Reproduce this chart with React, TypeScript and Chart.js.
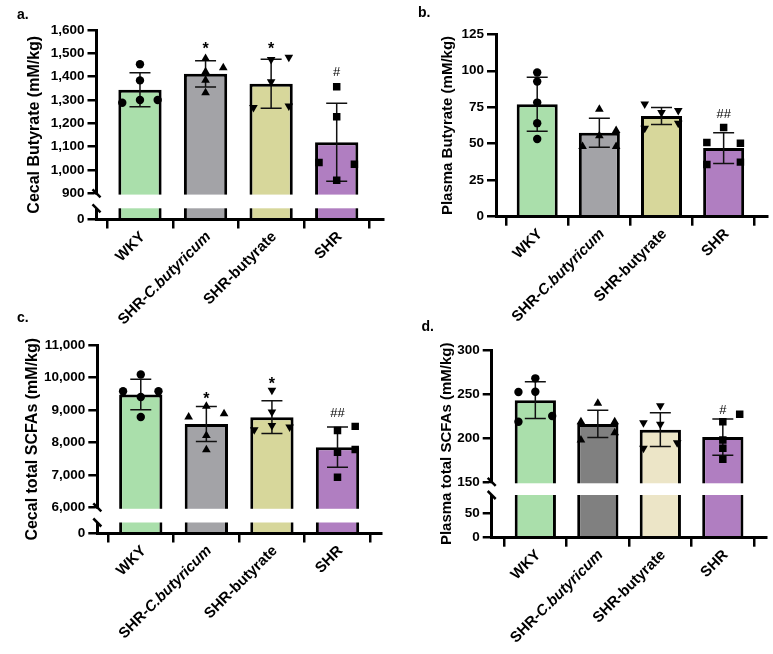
import React, { useEffect, useRef } from 'react';
import { Chart, registerables, LinearScale } from 'chart.js';

Chart.register(...registerables);

const FONT = '"Liberation Sans", Arial, Helvetica, sans-serif';

// ---------- shared categories ----------
const groups = ['WKY', 'SHR-C.butyricum', 'SHR-butyrate', 'SHR'];
const groupPlain = ['WKY', 'SHR-', 'SHR-butyrate', 'SHR'];
const groupItalic = ['', 'C.butyricum', '', ''];
const pointStyles = ['circle', 'triangle', 'triangle', 'rect'];
const pointRotations = [0, 0, 180, 0];
const pointRadii = [4.2, 5, 5, 5.3];

const colorsMain = ['#aadfab', '#a3a3a7', '#d7d79b', '#b07ec1'];
const colorsD = ['#aadfab', '#808080', '#ece5c7', '#b07ec1'];

// ---------- panel a: Cecal Butyrate ----------
const aTicks = [0, 900, 1000, 1100, 1200, 1300, 1400, 1500, 1600];
const aMeans = [1344, 1412, 1370, 1119];
const aSD = [73, 56, 105, 167];
const aWKY = [1453, 1384, 1300, 1288, 1300];
const aCbut = [1478, 1438, 1421, 1385, 1331];
const aBut = [1474, 1483, 1378, 1268, 1274];
const aSHR = [1357, 1228, 1032, 1025, 956];
const aCols = [[0, 0, 0, -1, 1], [0, 1, 0, 0, 0], [0, 1, 0, -1, 1], [0, 0, -1, 1, 0]];
const aSig = ['', '*', '*', '#'];
const aSigY = [0, 1536, 1536, 1421];

// ---------- panel b: Plasma Butyrate ----------
const bTicks = [0, 25, 50, 75, 100, 125];
const bMeans = [77, 57.5, 69, 47];
const bSD = [18.5, 9.9, 5.8, 10.5];
const bWKY = [98.8, 92.6, 78.2, 64.1, 53.2];
const bCbut = [73.7, 59, 55.4, 48.1, 48.1];
const bBut = [77.3, 72.7, 71.4, 60.7, 64.1];
const bSHR = [61.1, 50.8, 50.4, 35.8, 37.4];
const bCols = [[0, 0, 0, 0, 0], [0, 1, 0, -1, 1], [-1, 1, 0, -1, 1], [0, -1, 1, -1, 1]];
const bSig = ['', '', '', '##'];
const bSigY = [0, 0, 0, 71];

// ---------- panel c: Cecal total SCFAs ----------
const cTicks = [0, 6000, 7000, 8000, 9000, 10000, 11000];
const cMeans = [9480, 8570, 8780, 7855];
const cSD = [469, 541, 504, 618];
const cWKY = [10094, 9578, 9578, 9401, 8783];
const cCbut = [9114, 8783, 8888, 8217, 7775];
const cBut = [9609, 8938, 8526, 8393, 8474];
const cSHR = [8372, 8496, 7701, 7785, 6927];
const cCols = [[0, -1, 1, 0, 0], [0, -1, 1, 0, 0], [0, 0, 0, -1, 1], [0, 1, 0, 1, 0]];
const cSig = ['', '*', '*', '##'];
const cSigY = [0, 9454, 9918, 8938];

// ---------- panel d: Plasma total SCFAs ----------
const dTicks = [0, 50, 150, 200, 250, 300];
const dMeans = [243, 216, 209.5, 201];
const dSD = [20.9, 15.5, 19.3, 20.6];
const dWKY = [267.8, 252.2, 252.6, 218.5, 225];
const dCbut = [239.4, 218.5, 218.5, 197.7, 206];
const dBut = [236.7, 217.4, 215.6, 188.3, 194.7];
const dSHR = [226.9, 218.5, 197.7, 188.3, 175.8];
const dCols = [[0, -1, 0, -1, 1], [0, -1, 1, -1, 1], [0, -1, 0, -1, 1], [1, 0, 0, 0, 0]];
const dSig = ['', '', '', '#'];
const dSigY = [0, 0, 0, 232.6];

type Brk = { lowMax: number; upMin: number; upMax: number; lowFrac: number; gapFrac: number };
type Panel = {
  key: string; W: number; H: number; CH: number; left: number; right: number; top: number; bottom: number;
  xMin: number; xMax: number; yMin: number; yMax: number; yTicks: number[]; brk?: Brk;
  title: string; titleSize: number; titlePad: number;
  means: number[]; sds: number[]; points: number[][]; cols: number[][]; colors: string[];
  sig: string[]; sigY: number[];
};

const panels: { p: Panel; x: number; y: number }[] = [
  {
    x: 0, y: 0,
    p: {
      key: 'a', W: 390, H: 320, CH: 334, left: 96.5, right: 383, top: 30, bottom: 219.5,
      xMin: -0.663, xMax: 3.706, yMin: 0, yMax: 1600, yTicks: aTicks,
      brk: { lowMax: 100, upMin: 900, upMax: 1600, lowFrac: 0.0591, gapFrac: 0.0792 },
      title: 'Cecal Butyrate (mM/kg)', titleSize: 16, titlePad: 25.4,
      means: aMeans, sds: aSD, points: [aWKY, aCbut, aBut, aSHR], cols: aCols, colors: colorsMain,
      sig: aSig, sigY: aSigY,
    },
  },
  {
    x: 390, y: 0,
    p: {
      key: 'b', W: 383, H: 320, CH: 334, left: 106, right: 381.7, top: 34.3, bottom: 216.7,
      xMin: -0.663, xMax: 3.709, yMin: 0, yMax: 125, yTicks: bTicks,
      title: 'Plasma Butyrate (mM/kg)', titleSize: 15, titlePad: 49,
      means: bMeans, sds: bSD, points: [bWKY, bCbut, bBut, bSHR], cols: bCols, colors: colorsMain,
      sig: bSig, sigY: bSigY,
    },
  },
  {
    x: 0, y: 320,
    p: {
      key: 'c', W: 390, H: 334, CH: 334, left: 97.3, right: 381.7, top: 25, bottom: 213.5,
      xMin: -0.663, xMax: 3.674, yMin: 0, yMax: 11000, yTicks: cTicks,
      brk: { lowMax: 1000, upMin: 6000, upMax: 11000, lowFrac: 0.0584, gapFrac: 0.0796 },
      title: 'Cecal total SCFAs (mM/kg)', titleSize: 16, titlePad: 23.4,
      means: cMeans, sds: cSD, points: [cWKY, cCbut, cBut, cSHR], cols: cCols, colors: colorsMain,
      sig: cSig, sigY: cSigY,
    },
  },
  {
    x: 390, y: 320,
    p: {
      key: 'd', W: 383, H: 334, CH: 334, left: 101.7, right: 376.7, top: 30, bottom: 217.7,
      xMin: -0.698, xMax: 3.702, yMin: 0, yMax: 300, yTicks: dTicks,
      brk: { lowMax: 87.5, upMin: 150, upMax: 300, lowFrac: 0.2275, gapFrac: 0.0693 },
      title: 'Plasma total SCFAs (mM/kg)', titleSize: 15, titlePad: 48,
      means: dMeans, sds: dSD, points: [dWKY, dCbut, dBut, dSHR], cols: dCols, colors: colorsD,
      sig: dSig, sigY: dSigY,
    },
  },
];

const letters = [
  { t: 'a.', x: 17, y: 5.5 },
  { t: 'b.', x: 418, y: 3.5 },
  { t: 'c.', x: 17, y: 308.5 },
  { t: 'd.', x: 421.5, y: 318 },
];

function makeBrokenScale(id: string, b: Brk) {
  class BrokenScale extends (LinearScale as any) {
    static id = id;
    static defaults = {};
    getPixelForValue(value: number) {
      const self = this as any;
      const top = self.top, bottom = self.bottom, h = bottom - top;
      const lowH = h * b.lowFrac, gapH = h * b.gapFrac, upH = h - lowH - gapH;
      if (value <= b.lowMax) return bottom - (value / b.lowMax) * lowH;
      if (value >= b.upMin) return top + ((b.upMax - value) / (b.upMax - b.upMin)) * upH;
      return bottom - lowH - ((value - b.lowMax) / (b.upMin - b.lowMax)) * gapH;
    }
    getValueForPixel(pixel: number) {
      const self = this as any;
      const top = self.top, bottom = self.bottom, h = bottom - top;
      const lowH = h * b.lowFrac, gapH = h * b.gapFrac, upH = h - lowH - gapH;
      if (pixel >= bottom - lowH) return ((bottom - pixel) / lowH) * b.lowMax;
      if (pixel <= top + upH) return b.upMax - ((pixel - top) / upH) * (b.upMax - b.upMin);
      return b.lowMax + ((bottom - lowH - pixel) / gapH) * (b.upMin - b.lowMax);
    }
  }
  Chart.register(BrokenScale as any);
  return id;
}

function buildChart(canvas: HTMLCanvasElement, p: Panel) {
  const yType = p.brk ? makeBrokenScale('broken' + p.key, p.brk) : 'linear';

  const datasets: any[] = [
    {
      type: 'bar',
      data: p.means.map((m, i) => ({ x: i, y: m })),
      backgroundColor: p.colors,
      borderColor: '#000',
      borderWidth: 3,
      barPercentage: 0.66,
      categoryPercentage: 1,
      order: 2,
    },
  ];
  p.points.forEach((vals, g) => {
    datasets.push({
      type: 'scatter',
      data: vals.map((v, k) => ({ x: g + p.cols[g][k] * 0.27, y: v })),
      pointStyle: pointStyles[g],
      rotation: pointRotations[g],
      pointRadius: pointRadii[g],
      backgroundColor: '#000',
      borderColor: '#000',
      borderWidth: 0,
      order: 1,
    });
  });

  const overlay = {
    id: 'overlay' + p.key,
    afterDatasetDraw(chart: any, args: any) {
      if (args.index !== 0) return;
      const ctx = chart.ctx, xs = chart.scales.x, ys = chart.scales.y;
      ctx.save();
      ctx.strokeStyle = '#111';
      ctx.lineWidth = 1.5;
      p.means.forEach((m, i) => {
        const x = xs.getPixelForValue(i);
        const yt = ys.getPixelForValue(m + p.sds[i]);
        const yb = ys.getPixelForValue(m - p.sds[i]);
        ctx.beginPath();
        ctx.moveTo(x, yt); ctx.lineTo(x, yb);
        ctx.moveTo(x - 10.5, yt); ctx.lineTo(x + 10.5, yt);
        ctx.moveTo(x - 10.5, yb); ctx.lineTo(x + 10.5, yb);
        ctx.stroke();
      });
      ctx.restore();
    },
    afterDraw(chart: any) {
      const ctx = chart.ctx, xs = chart.scales.x, ys = chart.scales.y, ca = chart.chartArea;
      ctx.save();
      // axis break
      if (p.brk) {
        const gTop = ys.getPixelForValue(p.brk.upMin);
        const gBot = ys.getPixelForValue(p.brk.lowMax);
        ctx.fillStyle = '#fff';
        ctx.fillRect(ca.left - 2.5, gTop + 1.3, ca.right - ca.left + 5, gBot - gTop - 1.3);
        ctx.strokeStyle = '#000';
        ctx.lineWidth = 2.5;
        [gTop, gBot].forEach((yy) => {
          ctx.beginPath();
          ctx.moveTo(ca.left - 4, yy - 4);
          ctx.lineTo(ca.left + 4, yy + 4);
          ctx.stroke();
        });
      }
      // significance marks
      ctx.fillStyle = '#000';
      ctx.textAlign = 'center';
      ctx.textBaseline = 'alphabetic';
      p.sig.forEach((s, i) => {
        if (!s) return;
        const x = xs.getPixelForValue(i);
        const y = ys.getPixelForValue(p.sigY[i]);
        if (s.startsWith('*')) {
          ctx.font = `bold 16px ${FONT}`;
          ctx.fillText(s, x, y + 16 * 0.57);
        } else {
          ctx.font = `13px ${FONT}`;
          ctx.fillText(s, x, y + 13 * 0.36);
        }
      });
      // category labels (rotated, with italic species name)
      groups.forEach((_, i) => {
        const x = xs.getPixelForValue(i) + 3;
        const y = ca.bottom + 15;
        ctx.save();
        ctx.translate(x, y);
        ctx.rotate(-Math.PI / 4);
        ctx.textAlign = 'right';
        ctx.textBaseline = 'middle';
        let off = 0;
        if (groupItalic[i]) {
          ctx.font = `italic bold 15px ${FONT}`;
          ctx.fillText(groupItalic[i], 0, 0);
          off = ctx.measureText(groupItalic[i]).width;
        }
        ctx.font = `bold 15px ${FONT}`;
        ctx.fillText(groupPlain[i], -off, 0);
        ctx.restore();
      });
      ctx.restore();
    },
  };

  return new Chart(canvas, {
    type: 'bar',
    data: { datasets },
    options: {
      responsive: false,
      animation: false,
      events: [],
      layout: { padding: { left: 0, top: p.top, right: p.W - p.right, bottom: 0 } },
      plugins: { legend: { display: false }, tooltip: { enabled: false } },
      scales: {
        x: {
          type: 'linear',
          min: p.xMin,
          max: p.xMax,
          bounds: 'data',
          offset: false,
          afterBuildTicks: (s: any) => { s.ticks = [0, 1, 2, 3].map((v) => ({ value: v })); },
          afterFit: (s: any) => { s.height = p.CH - p.bottom; },
          grid: { drawOnChartArea: false, drawTicks: true, tickLength: 9, lineWidth: 2.5, color: '#000' },
          border: { display: true, color: '#000', width: 3, z: 1 },
          ticks: { display: false },
        },
        y: {
          type: yType,
          min: p.yMin,
          max: p.yMax,
          bounds: 'data',
          afterBuildTicks: (s: any) => { s.ticks = p.yTicks.map((v) => ({ value: v })); },
          afterFit: (s: any) => { s.width = p.left; },
          grid: { drawOnChartArea: false, drawTicks: true, tickLength: 9, lineWidth: 2.5, color: '#000' },
          border: { display: true, color: '#000', width: 3, z: 1 },
          ticks: {
            autoSkip: false,
            color: '#000',
            padding: 3,
            font: { family: FONT, size: 13.5, weight: 'bold' },
            callback: (v: any) => Number(v).toLocaleString('en-US'),
          },
          title: {
            display: true,
            text: p.title,
            color: '#000',
            font: { family: FONT, size: p.titleSize, weight: 'bold' },
            padding: { top: p.titlePad, bottom: 0 },
          },
        },
      },
    } as any,
    plugins: [overlay as any],
  } as any);
}

function PanelChart({ p, x, y }: { p: Panel; x: number; y: number }) {
  const ref = useRef<HTMLCanvasElement>(null);
  useEffect(() => {
    const chart = buildChart(ref.current as HTMLCanvasElement, p);
    return () => chart.destroy();
  }, [p]);
  return (
    <canvas
      ref={ref}
      width={p.W}
      height={p.CH}
      style={{ position: 'absolute', left: x, top: y, width: p.W, height: p.CH }}
    />
  );
}

export default function App() {
  return (
    <div style={{ position: 'absolute', left: 0, top: 0, width: 773, height: 654, background: '#fff', overflow: 'hidden' }}>
      {panels.map((pp) => (
        <PanelChart key={pp.p.key} p={pp.p} x={pp.x} y={pp.y} />
      ))}
      {letters.map((l) => (
        <span
          key={l.t}
          style={{
            position: 'absolute', left: l.x, top: l.y, font: `bold 14px ${FONT}`,
            lineHeight: '16px', color: '#000', whiteSpace: 'nowrap',
          }}
        >
          {l.t}
        </span>
      ))}
    </div>
  );
}
